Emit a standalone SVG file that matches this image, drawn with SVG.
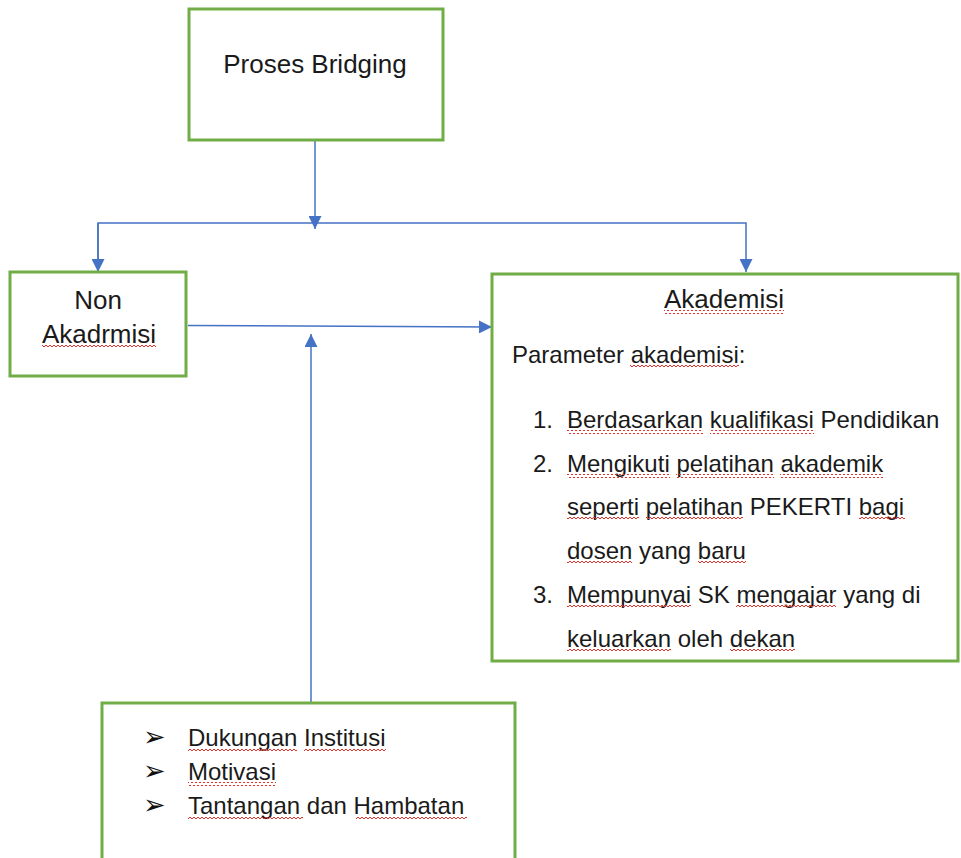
<svg xmlns="http://www.w3.org/2000/svg" width="961" height="858" viewBox="0 0 961 858">
<style>
.box{fill:#fff;stroke:#70AD47;stroke-width:3}
.t{font-family:"Liberation Sans",Arial,sans-serif;fill:#1a1a1a}
.t26{font-size:26px}
.t24{font-size:24px}
.c{text-anchor:middle}
.con{stroke:#4472C4;stroke-width:1.5;fill:none}
.sq{fill:url(#wave)}
.bul{font-family:"DejaVu Sans",sans-serif;font-size:27px;fill:#111}
</style>
<defs>
<marker id="ah" markerUnits="userSpaceOnUse" markerWidth="13" markerHeight="13" refX="13" refY="6.5" orient="auto">
<path d="M0,0 L13,6.5 L0,13 z" fill="#4472C4"/>
</marker>
<pattern id="wave" patternUnits="userSpaceOnUse" x="0" y="0" width="4" height="4">
<path d="M0,3 L2,1 L4,3" fill="none" stroke="#e8302a" stroke-width="1"/>
</pattern>
</defs>
<rect width="961" height="858" fill="#fff"/>
<g id="connectors">
<line class="con" x1="315" y1="141" x2="315" y2="229" marker-end="url(#ah)"/>
<polyline class="con" points="98,272 98,223 746,223 746,272" marker-end="url(#ah)"/>
<line class="con" x1="98" y1="223" x2="98" y2="272" marker-end="url(#ah)"/>
<line class="con" x1="188" y1="325.5" x2="492" y2="327" marker-end="url(#ah)"/>
<line class="con" x1="311" y1="703" x2="311" y2="334" marker-end="url(#ah)"/>
</g>
<g id="proses-bridging">
<rect class="box" x="189" y="9" width="254" height="131"/>
<text class="t t26 c" x="315" y="73">Proses Bridging</text>
</g>
<g id="non-akademisi">
<rect class="box" x="10" y="272" width="176" height="104"/>
<text class="t t26 c" x="98" y="309">Non</text>
<text class="t t26 c" x="99" y="343"><tspan>Akadrmisi</tspan></text>
<rect class="sq" x="42" y="345" width="114" height="4"/>
</g>
<g id="akademisi">
<rect class="box" x="492" y="274" width="466" height="387"/>
<text class="t t26 c" x="724" y="308"><tspan>Akademisi</tspan></text>
<rect class="sq" x="664" y="310" width="120" height="4"/>
<text class="t t24" x="512" y="363">Parameter <tspan>akademisi</tspan>:</text>
<rect class="sq" x="630" y="365" width="109" height="4"/>
<text class="t t24" x="533" y="428">1.</text>
<text class="t t24" x="567" y="428"><tspan>Berdasarkan</tspan> <tspan>kualifikasi</tspan> Pendidikan</text>
<rect class="sq" x="567" y="430" width="136" height="4"/>
<rect class="sq" x="710" y="430" width="104" height="4"/>
<text class="t t24" x="533" y="472">2.</text>
<text class="t t24" x="567" y="472"><tspan>Mengikuti</tspan> <tspan>pelatihan</tspan> <tspan>akademik</tspan></text>
<rect class="sq" x="567" y="474" width="103" height="4"/>
<rect class="sq" x="676" y="474" width="98" height="4"/>
<rect class="sq" x="780" y="474" width="103" height="4"/>
<text class="t t24" x="567" y="515"><tspan>seperti</tspan> <tspan>pelatihan</tspan> PEKERTI <tspan>bagi</tspan></text>
<rect class="sq" x="567" y="517" width="72" height="4"/>
<rect class="sq" x="646" y="517" width="97" height="4"/>
<rect class="sq" x="859" y="517" width="46" height="4"/>
<text class="t t24" x="567" y="559"><tspan>dosen</tspan> yang <tspan>baru</tspan></text>
<rect class="sq" x="567" y="561" width="65" height="4"/>
<rect class="sq" x="698" y="561" width="48" height="4"/>
<text class="t t24" x="533" y="603">3.</text>
<text class="t t24" x="567" y="603"><tspan>Mempunyai</tspan> SK <tspan>mengajar</tspan> yang di</text>
<rect class="sq" x="567" y="605" width="124" height="4"/>
<rect class="sq" x="736" y="605" width="100" height="4"/>
<text class="t t24" x="567" y="647"><tspan>keluarkan</tspan> oleh <tspan>dekan</tspan></text>
<rect class="sq" x="567" y="649" width="104" height="4"/>
<rect class="sq" x="730" y="649" width="65" height="4"/>
</g>
<g id="faktor">
<rect class="box" x="102" y="703" width="413" height="170"/>
<text class="bul" x="143" y="746">➢</text>
<text class="bul" x="143" y="780">➢</text>
<text class="bul" x="143" y="814">➢</text>
<text class="t t24" x="188" y="746"><tspan>Dukungan</tspan> <tspan>Institusi</tspan></text>
<rect class="sq" x="188" y="748" width="109" height="4"/>
<rect class="sq" x="304" y="748" width="82" height="4"/>
<text class="t t24" x="188" y="780"><tspan>Motivasi</tspan></text>
<rect class="sq" x="188" y="782" width="88" height="4"/>
<text class="t t24" x="188" y="814"><tspan>Tantangan</tspan> dan <tspan>Hambatan</tspan></text>
<rect class="sq" x="188" y="816" width="115" height="4"/>
<rect class="sq" x="356" y="816" width="111" height="4"/>
</g>
</svg>
